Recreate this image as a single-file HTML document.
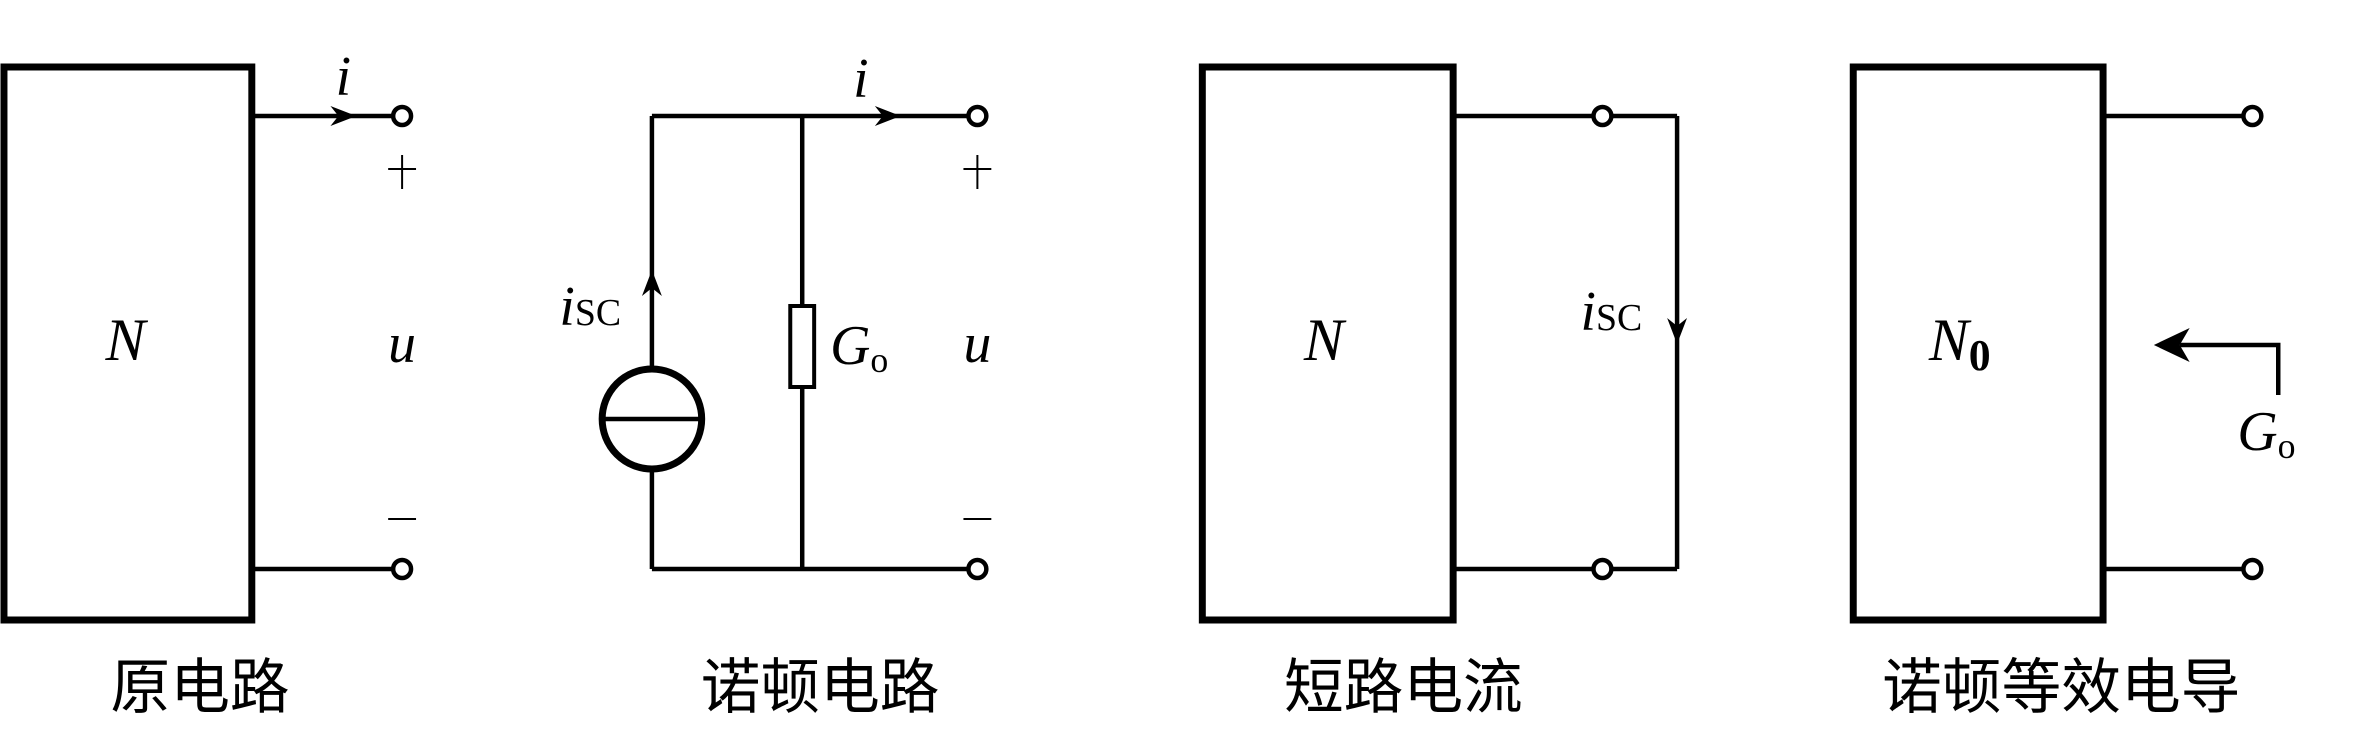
<!DOCTYPE html>
<html><head><meta charset="utf-8"><style>html,body{margin:0;padding:0;background:#fff}</style></head><body>
<svg width="2360" height="745" viewBox="0 0 2360 745" xmlns="http://www.w3.org/2000/svg" font-family="'Liberation Serif', serif">
<g transform="scale(0.9953,1)">
<g stroke="#000" fill="none" stroke-width="4.5">
<!-- circuit 1 -->
<rect x="4" y="67" width="249" height="553" stroke-width="7"/>
<line x1="253" y1="116" x2="395" y2="116"/>
<line x1="253" y1="569" x2="395" y2="569"/>
<circle cx="404" cy="116" r="9" fill="#fff"/>
<circle cx="404" cy="569" r="9" fill="#fff"/>
<path d="M332,106 L358,116 L332,126 L340,116 z" fill="#000" stroke="none"/>
<line x1="390" y1="169" x2="418" y2="169" stroke-width="2"/>
<line x1="404" y1="155" x2="404" y2="189" stroke-width="2"/>
<line x1="390" y1="519" x2="418" y2="519" stroke-width="2"/>
<!-- circuit 2 -->
<line x1="655" y1="116" x2="973" y2="116"/>
<line x1="655" y1="569" x2="973" y2="569"/>
<line x1="655" y1="116" x2="655" y2="369"/>
<line x1="655" y1="469" x2="655" y2="569"/>
<line x1="806" y1="116" x2="806" y2="306"/>
<line x1="806" y1="387" x2="806" y2="569"/>
<rect x="794" y="306" width="24" height="81" stroke-width="4"/>
<circle cx="655" cy="419" r="50" stroke-width="7"/>
<line x1="605" y1="419" x2="705" y2="419"/>
<circle cx="982" cy="116" r="9" fill="#fff"/>
<circle cx="982" cy="569" r="9" fill="#fff"/>
<path d="M879,106 L905,116 L879,126 L887,116 z" fill="#000" stroke="none"/>
<path d="M645,296 L655,270 L665,296 L655,288 z" fill="#000" stroke="none"/>
<line x1="968" y1="169" x2="996" y2="169" stroke-width="2"/>
<line x1="982" y1="155" x2="982" y2="189" stroke-width="2"/>
<line x1="968" y1="519" x2="996" y2="519" stroke-width="2"/>
<!-- circuit 3 -->
<rect x="1208" y="67" width="252" height="553" stroke-width="7"/>
<line x1="1460" y1="116" x2="1685" y2="116"/>
<line x1="1460" y1="569" x2="1685" y2="569"/>
<line x1="1685" y1="116" x2="1685" y2="569"/>
<circle cx="1610" cy="116" r="9" fill="#fff"/>
<circle cx="1610" cy="569" r="9" fill="#fff"/>
<path d="M1675,318 L1685,344 L1695,318 L1685,326 z" fill="#000" stroke="none"/>
<!-- circuit 4 -->
<rect x="1862" y="67" width="251" height="553" stroke-width="7"/>
<line x1="2113" y1="116" x2="2254" y2="116"/>
<line x1="2113" y1="569" x2="2254" y2="569"/>
<circle cx="2263" cy="116" r="9" fill="#fff"/>
<circle cx="2263" cy="569" r="9" fill="#fff"/>
<path d="M2289,395 L2289,345 L2190,345"/>
<path d="M2200,328 L2164,345 L2200,362 L2190,345 z" fill="#000" stroke="none"/>
</g>
<g fill="#000" font-style="italic" font-size="60">
<text x="126" y="360" text-anchor="middle">N</text>
<text x="345" y="95" text-anchor="middle" font-size="56">i</text>
<text x="404" y="362" text-anchor="middle" font-size="56">u</text>
<text x="865" y="97" text-anchor="middle" font-size="56">i</text>
<text x="982" y="362" text-anchor="middle" font-size="56">u</text>
<text x="562" y="325" font-size="56">i<tspan font-style="normal" font-size="38">SC</tspan></text>
<text x="834" y="364" font-size="56">G<tspan font-style="normal" font-size="36" dy="8">o</tspan></text>
<text x="1330" y="360" text-anchor="middle">N</text>
<text x="1588" y="330" font-size="56">i<tspan font-style="normal" font-size="38">SC</tspan></text>
<text x="1938" y="360">N<tspan font-style="normal" font-weight="bold" font-size="44" dy="10">0</tspan></text>
<text x="2248" y="450" font-size="56">G<tspan font-style="normal" font-size="36" dy="8">o</tspan></text>
</g>
<g fill="#000" font-family="'Liberation Sans','Noto Sans CJK SC',sans-serif" font-size="60" text-anchor="middle">
<text x="201" y="708">原电路</text>
<text x="824" y="708">诺顿电路</text>
<text x="1410" y="708">短路电流</text>
<text x="2071" y="708">诺顿等效电导</text>
</g>
</g>
</svg>
</body></html>
